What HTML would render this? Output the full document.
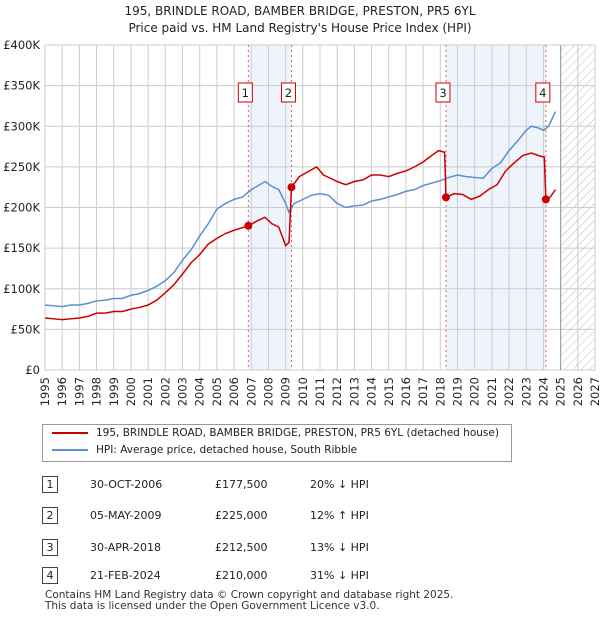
<!DOCTYPE html>
<html><head><meta charset="utf-8"><style>
body{margin:0;background:#fff;font-family:"DejaVu Sans","Liberation Sans",sans-serif;}
#wrap{position:relative;width:600px;height:620px;overflow:hidden}
.t{position:absolute;font-size:11px;color:#222;white-space:nowrap}
svg text{font-family:"DejaVu Sans","Liberation Sans",sans-serif}
</style></head><body><div id="wrap">
<div class="t" style="left:0;width:600px;text-align:center;top:3px;font-size:12px;line-height:17px">195, BRINDLE ROAD, BAMBER BRIDGE, PRESTON, PR5 6YL<br>Price paid vs. HM Land Registry's House Price Index (HPI)</div>
<svg id="c" width="600" height="420" style="position:absolute;left:0;top:0"></svg>
<div style="position:absolute;left:42px;top:424px;width:470px;height:38px;border:1px solid #999;box-sizing:border-box"></div>
<div class="t" style="left:52px;top:427px;font-size:10.5px"><span style="display:inline-block;width:36px;height:2px;background:#cc0000;vertical-align:middle;margin-right:8px"></span>195, BRINDLE ROAD, BAMBER BRIDGE, PRESTON, PR5 6YL (detached house)</div>
<div class="t" style="left:52px;top:444px;font-size:10.5px"><span style="display:inline-block;width:36px;height:2px;background:#5b8fd0;vertical-align:middle;margin-right:8px"></span>HPI: Average price, detached house, South Ribble</div>
<div id="tbl"></div>
<div class="t" style="left:45px;top:590px;font-size:10.5px;line-height:11px;color:#333">Contains HM Land Registry data © Crown copyright and database right 2025.<br>This data is licensed under the Open Government Licence v3.0.</div>
</div>
<script>
const hpiYears=[1995,1995.5,1996,1996.5,1997,1997.5,1998,1998.5,1999,1999.5,2000,2000.5,2001,2001.5,2002,2002.5,2003,2003.5,2004,2004.5,2005,2005.5,2006,2006.5,2007,2007.5,2007.8,2008.2,2008.6,2009.0,2009.2,2009.5,2010,2010.5,2011,2011.5,2012,2012.5,2013,2013.5,2014,2014.5,2015,2015.5,2016,2016.5,2017,2017.5,2018,2018.5,2019,2019.5,2020,2020.5,2021,2021.5,2022,2022.5,2023,2023.3,2023.7,2024.0,2024.3,2024.7];
const hpiVals=[80,79,78,80,80,82,85,86,88,88,92,94,98,103,110,120,135,148,165,180,198,205,210,213,222,228,232,226,222,205,194,205,210,215,217,215,205,200,202,203,208,210,213,216,220,222,227,230,233,237,240,238,237,236,248,255,270,282,295,300,298,295,300,318];
const propYears=[1995,1995.5,1996,1996.5,1997,1997.5,1998,1998.5,1999,1999.5,2000,2000.5,2001,2001.5,2002,2002.5,2003,2003.5,2004,2004.5,2005,2005.5,2006,2006.83,2007.3,2007.8,2008.2,2008.6,2009.0,2009.2,2009.34,2009.8,2010.3,2010.8,2011.2,2011.6,2012,2012.5,2013,2013.5,2014,2014.5,2015,2015.5,2016,2016.5,2017,2017.5,2017.9,2018.25,2018.33,2018.8,2019.3,2019.8,2020.3,2020.8,2021.3,2021.8,2022.3,2022.8,2023.3,2023.7,2024.05,2024.14,2024.4,2024.7];
const propVals=[64,63,62,63,64,66,70,70,72,72,75,77,80,86,95,105,118,132,142,155,162,168,172,177.5,183,188,180,176,153,157,225,238,244,250,240,236,232,228,232,234,240,240,238,242,245,250,256,264,270,268,212.5,217,216,210,214,222,228,245,255,264,267,264,262,210,213,222];
const sales=[{n:"1",y:2006.83,v:177.5,d:"30-OCT-2006",p:"£177,500",h:"20% ↓ HPI"},{n:"2",y:2009.34,v:225,d:"05-MAY-2009",p:"£225,000",h:"12% ↑ HPI"},{n:"3",y:2018.33,v:212.5,d:"30-APR-2018",p:"£212,500",h:"13% ↓ HPI"},{n:"4",y:2024.14,v:210,d:"21-FEB-2024",p:"£210,000",h:"31% ↓ HPI"}];
const yTicks=[0,50,100,150,200,250,300,350,400];
const yLabels=["£0","£50K","£100K","£150K","£200K","£250K","£300K","£350K","£400K"];
const xTicks=[1995,1996,1997,1998,1999,2000,2001,2002,2003,2004,2005,2006,2007,2008,2009,2010,2011,2012,2013,2014,2015,2016,2017,2018,2019,2020,2021,2022,2023,2024,2025,2026,2027];
const X0=45,X1=595,Y0=370,Y1=45;
const xs=y=>X0+(y-1995)/32*(X1-X0);
const ys=v=>Y0-v/400*(Y0-Y1);
const svg=document.getElementById('c');const NS='http://www.w3.org/2000/svg';
function mk(t,a,p){const e=document.createElementNS(NS,t);for(const k in a)e.setAttribute(k,a[k]);(p||svg).appendChild(e);return e;}
const defs=mk('defs',{});
const pat=mk('pattern',{id:'hatch',width:6,height:6,patternUnits:'userSpaceOnUse',patternTransform:'rotate(45)'},defs);
mk('line',{x1:0,y1:0,x2:0,y2:6,stroke:'#bbb','stroke-width':1},pat);
let r=mk('rect',{x:xs(sales[0].y),y:Y1,width:xs(sales[1].y)-xs(sales[0].y),height:Y0-Y1,fill:'#eef3fc'});

r=mk('rect',{x:xs(sales[2].y),y:Y1,width:xs(sales[3].y)-xs(sales[2].y),height:Y0-Y1,fill:'#eef3fc'});

r=mk('rect',{x:xs(2025),y:Y1,width:X1-xs(2025),height:Y0-Y1,fill:'url(#hatch)'});

xTicks.forEach(t=>{mk('line',{x1:xs(t),x2:xs(t),y1:Y1,y2:Y0,stroke:'#ccc'});
 const tx=mk('text',{x:0,y:0,'text-anchor':'end','font-size':11.5,fill:'#222',transform:`translate(${xs(t)+4},377) rotate(-90)`});tx.textContent=t;
 });
yTicks.forEach((t,i)=>{mk('line',{x1:X0,x2:X1,y1:ys(t),y2:ys(t),stroke:'#ccc'});
 const tx=mk('text',{x:40,y:ys(t)+4,'text-anchor':'end','font-size':11.5,fill:'#222'});tx.textContent=yLabels[i];
 });
mk('line',{x1:xs(2025),x2:xs(2025),y1:Y1,y2:Y0,stroke:'#999'});
sales.forEach(s=>{const l=mk('line',{x1:xs(s.y),x2:xs(s.y),y1:Y1,y2:Y0,stroke:'#e06060','stroke-dasharray':'2,3'});
 
 const g=mk('g',{});
 mk('rect',{x:xs(s.y)-10,y:83,width:14,height:19,fill:'#fff',stroke:'#c00'},g);
 const t=mk('text',{x:xs(s.y)-3,y:97,'text-anchor':'middle','font-size':11.5,fill:'#222'},g);t.textContent=s.n;});
const hp=mk('polyline',{points:hpiYears.map((y,i)=>xs(y)+','+ys(hpiVals[i])).join(' '),fill:'none',stroke:'#5b8fd0','stroke-width':1.5});

const pp=mk('polyline',{points:propYears.map((y,i)=>xs(y)+','+ys(propVals[i])).join(' '),fill:'none',stroke:'#cc0000','stroke-width':1.5});

sales.forEach(s=>{const c=mk('circle',{cx:xs(s.y),cy:ys(s.v),r:4,fill:'#cc0000'});
 });
const tb=document.getElementById('tbl');const rowsY=[484,515,547,575];
sales.forEach((s,i)=>{const y=rowsY[i];
 const row=document.createElement('div');
 
 
 row.innerHTML=`<div class="t" style="left:42px;top:${y-8}px;width:16px;height:17px;border:1px solid #444;box-sizing:border-box;text-align:center;font-size:11px;line-height:15px">${s.n}</div><div class="t" style="left:90px;top:${y-6}px">${s.d}</div><div class="t" style="left:215px;top:${y-6}px">${s.p}</div><div class="t" style="left:310px;top:${y-6}px">${s.h}</div>`;
 tb.appendChild(row);});
</script></body></html>
